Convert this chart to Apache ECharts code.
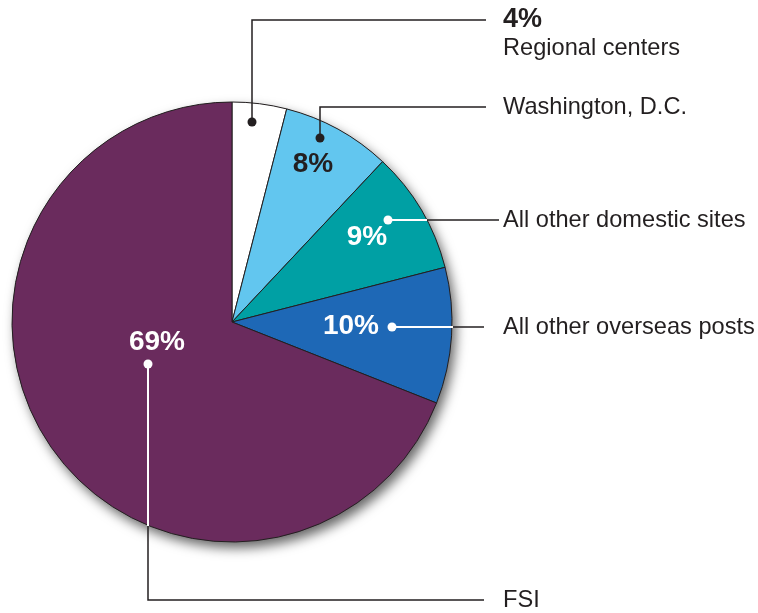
<!DOCTYPE html>
<html>
<head>
<meta charset="utf-8">
<title>Pie</title>
<style>
  html, body { margin: 0; padding: 0; background: #fff; }
  #main { width: 758px; height: 613px; }
</style>
</head>
<body>
<div id="main"></div>
<script src="https://cdn.jsdelivr.net/npm/echarts@6/dist/echarts.min.js"></script>
<script>
// data
var categories = ['Regional centers', 'Washington, D.C.', 'All other domestic sites', 'All other overseas posts', 'FSI'];
var shares = [4, 8, 9, 10, 69];

// styling
var sliceColors = ['#ffffff', '#62c6ef', '#00a0a4', '#1e68b6', '#6a2b5d'];
var ink = '#231f20';
var fontFam = '"Liberation Sans", Arial, Helvetica, sans-serif';
var pieCenter = [232, 322];
var pieRadius = 220;

// annotation layout: dot on slice, white run inside slice, black run outside, label position
var notes = [
  { dot: [252, 122], inner: null, outer: [[252, 122], [252, 20], [486, 20]], dotColor: ink,
    label: [503, 20], pct: null },
  { dot: [320, 138], inner: null, outer: [[320, 138], [320, 107], [486, 107]], dotColor: ink,
    label: [503, 107], pct: [313, 164], pctColor: ink },
  { dot: [388, 220], inner: [[388, 220], [427, 220]], outer: [[427, 220], [499, 220]], dotColor: '#fff',
    label: [503, 220], pct: [367, 237], pctColor: '#fff' },
  { dot: [392, 327], inner: [[392, 327], [453, 327]], outer: [[453, 327], [484, 327]], dotColor: '#fff',
    label: [503, 327], pct: [351, 326], pctColor: '#fff' },
  { dot: [148, 364], inner: [[148, 364], [148, 526]], outer: [[148, 526], [148, 600], [484, 600]], dotColor: '#fff',
    label: [503, 600], pct: [157, 342], pctColor: '#fff' }
];

var total = shares.reduce(function (a, b) { return a + b; }, 0);

var graphics = [];
notes.forEach(function (n, i) {
  graphics.push({ type: 'polyline', z: 100, shape: { points: n.outer },
    style: { stroke: ink, lineWidth: 1.5, fill: null } });
  if (n.inner) {
    graphics.push({ type: 'polyline', z: 101, shape: { points: n.inner },
      style: { stroke: '#fff', lineWidth: 2, fill: null } });
  }
  graphics.push({ type: 'circle', z: 102, shape: { cx: n.dot[0], cy: n.dot[1], r: 4.5 },
    style: { fill: n.dotColor } });
  if (n.pct) {
    graphics.push({ type: 'text', z: 103, x: n.pct[0], y: n.pct[1],
      style: { text: shares[i] + '%', fill: n.pctColor, align: 'center', verticalAlign: 'middle',
        fontFamily: fontFam, fontSize: 28, fontWeight: 'bold' } });
  }
});

// right-hand labels
graphics.push({ type: 'text', z: 103, x: 503, y: 20,
  style: { text: shares[0] + '%', fill: ink, align: 'left', verticalAlign: 'middle',
    fontFamily: fontFam, fontSize: 27, fontWeight: 'bold' } });
graphics.push({ type: 'text', z: 103, x: 503, y: 48,
  style: { text: categories[0], fill: ink, align: 'left', verticalAlign: 'middle',
    fontFamily: fontFam, fontSize: 23.6 } });
for (var k = 1; k < categories.length; k++) {
  graphics.push({ type: 'text', z: 103, x: notes[k].label[0], y: notes[k].label[1],
    style: { text: categories[k], fill: ink, align: 'left', verticalAlign: 'middle',
      fontFamily: fontFam, fontSize: 23.6 } });
}

var chart = echarts.init(document.getElementById('main'), null, { renderer: 'canvas' });
chart.setOption({
  backgroundColor: '#ffffff',
  animation: false,
  series: [
    {
      // drop shadow underneath the pie
      type: 'pie', silent: true, z: 1,
      center: pieCenter, radius: pieRadius,
      label: { show: false }, labelLine: { show: false },
      data: [{ value: total, name: 'shadow' }],
      itemStyle: { color: '#888888', shadowBlur: 12, shadowOffsetX: 4, shadowOffsetY: 6,
        shadowColor: 'rgba(0,0,0,0.6)' }
    },
    {
      type: 'pie', silent: true, z: 2,
      center: pieCenter, radius: pieRadius,
      startAngle: 90, clockwise: true,
      label: { show: false }, labelLine: { show: false },
      data: categories.map(function (c, i) {
        return { name: c, value: shares[i], itemStyle: { color: sliceColors[i] } };
      }),
      itemStyle: { borderColor: ink, borderWidth: 1 }
    }
  ],
  graphic: { elements: graphics }
});
</script>
</body>
</html>
